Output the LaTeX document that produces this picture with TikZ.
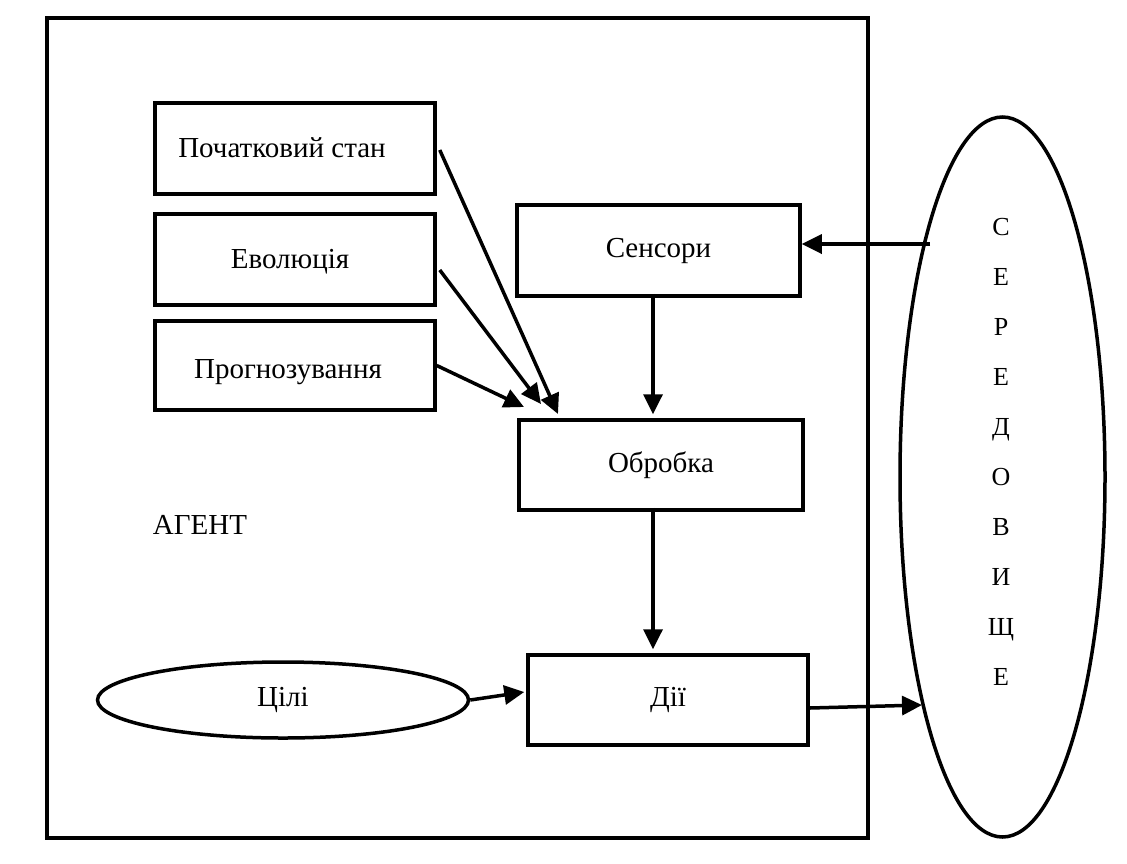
\documentclass[tikz,border=0pt]{standalone}
\usepackage{fontspec}
\setmainfont{Liberation Serif}
\usetikzlibrary{arrows.meta,shapes.geometric}
\begin{document}
\begin{tikzpicture}[x=1pt,y=-1pt,
  lw/.style={line width=3.5pt},
  boxnode/.style={draw,lw,rectangle,inner sep=0pt,font=\fontsize{29}{34}\selectfont},
  ellnode/.style={draw,lw,ellipse,inner sep=0pt,font=\fontsize{29}{34}\selectfont},
  arr/.style={lw,-{Triangle[length=20pt,width=19pt]}},
  lbl/.style={font=\fontsize{29}{34}\selectfont,inner sep=0pt}]
\fill[white] (0,0) rectangle (1127,863);
\useasboundingbox (0,0) rectangle (1127,863);
% agent frame
\node[draw,lw,rectangle,inner sep=0pt,minimum width=821pt,minimum height=820pt] (agent) at (457.5,428) {};
\node[lbl] (agentlbl) at (200,525) {АГЕНТ};
% left boxes
\node[boxnode,minimum width=280pt,minimum height=91pt] (ps) at (295,148.5) {};
\node[lbl] (pslbl) at (282,148) {Початковий стан};
\node[boxnode,minimum width=280pt,minimum height=91pt] (ev) at (295,259.5) {};
\node[lbl] (evlbl) at (290,262) {Еволюція};
\node[boxnode,minimum width=280pt,minimum height=89pt] (pr) at (295,365.5) {};
\node[lbl] (prlbl) at (288,372) {Прогнозування};
% right boxes
\node[boxnode,minimum width=283pt,minimum height=91pt] (se) at (658.5,250.5) {Сенсори};
\node[boxnode,minimum width=284pt,minimum height=90pt] (ob) at (661,465) {Обробка};
\node[boxnode,minimum width=280pt,minimum height=90pt] (di) at (668,700) {Дії};
% goals
\node[ellnode,minimum width=371pt,minimum height=76pt] (ci) at (283,700) {Цілі};
% environment
\node[draw,lw,ellipse,inner sep=0pt,minimum width=205pt,minimum height=720pt] (env) at (1002.5,477) {};
\node[inner sep=0pt,align=center,font=\fontsize{26}{50}\selectfont] (envlbl) at (1001,452)
  {С\\Е\\Р\\Е\\Д\\О\\В\\И\\Щ\\Е};
% arrow end points
\coordinate (t1) at (558,414);
\coordinate (t2) at (541,404);
\coordinate (t3) at (524,407);
\coordinate (e1) at (930,244);
\coordinate (e2) at (922,705);
% connectors
\draw[arr] ([xshift=3pt,yshift=-1.5pt]ps.east) -- (t1);
\draw[arr] ([xshift=3pt,yshift=-10.5pt]ev.east) -- (t2);
\draw[arr] (pr.east) -- (t3);
\draw[arr] ([xshift=-5.5pt,yshift=4pt]se.south) -- ([xshift=-8pt,yshift=4pt]ob.north);
\draw[arr] ([xshift=-8pt,yshift=4pt]ob.south) -- ([xshift=-15pt,yshift=4pt]di.north);
\draw[arr] (e1) -- (e1 -| se.east);
\draw[arr] (ci.east) -- ([xshift=-2pt,yshift=8pt]di.west);
\draw[arr] ([yshift=-8pt]di.east) -- (e2);
\end{tikzpicture}
\end{document}
